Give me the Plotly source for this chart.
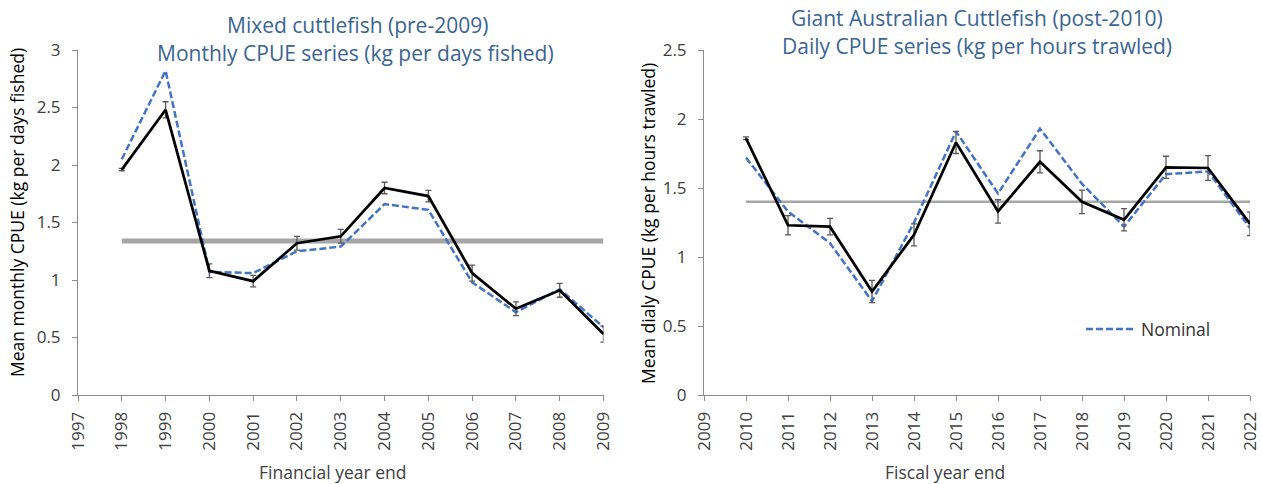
import plotly.graph_objects as go

# Mixed cuttlefish, monthly CPUE (kg per days fished), financial year end
years_a = [1998, 1999, 2000, 2001, 2002, 2003, 2004, 2005, 2006, 2007, 2008, 2009]
std_a = [1.96, 2.48, 1.08, 0.99, 1.32, 1.38, 1.80, 1.73, 1.06, 0.75, 0.91, 0.53]
err_a = [0.01, 0.07, 0.06, 0.05, 0.06, 0.06, 0.05, 0.05, 0.07, 0.06, 0.06, 0.07]
nom_a = [2.05, 2.82, 1.07, 1.06, 1.25, 1.29, 1.66, 1.61, 0.98, 0.72, 0.92, 0.59]
mean_a = 1.34

# Giant Australian Cuttlefish, daily CPUE (kg per hours trawled), fiscal year end
years_b = [2010, 2011, 2012, 2013, 2014, 2015, 2016, 2017, 2018, 2019, 2020, 2021, 2022]
std_b = [1.86, 1.23, 1.22, 0.75, 1.16, 1.83, 1.33, 1.69, 1.40, 1.27, 1.65, 1.645, 1.24]
err_b = [0.01, 0.07, 0.06, 0.08, 0.08, 0.08, 0.085, 0.08, 0.085, 0.08, 0.08, 0.09, 0.085]
nom_b = [1.72, 1.33, 1.10, 0.68, 1.25, 1.91, 1.46, 1.93, 1.53, 1.22, 1.60, 1.62, 1.21]
mean_b = 1.40

xticks_a = list(range(1997, 2010))
xticks_b = list(range(2009, 2023))
yticks_a = [0, 0.5, 1, 1.5, 2, 2.5, 3]
yticks_b = [0, 0.5, 1, 1.5, 2, 2.5]

W, H = 1262, 484
FONT = "Open Sans"
TITLE_COL = "#3a6592"
TEXT_COL = "#404040"
AXIS_COL = "#8c8c8c"


def px(x):
    return x / W


def py(y):
    return 1 - y / H


fig = go.Figure()

# Left panel
fig.add_trace(go.Scatter(x=[years_a[0], years_a[-1]], y=[mean_a, mean_a], mode="lines",
                         line=dict(color="#a6a6a6", width=5), showlegend=False,
                         xaxis="x", yaxis="y"))
fig.add_trace(go.Scatter(x=years_a, y=nom_a, mode="lines",
                         line=dict(color="#4472c4", width=2.5, dash="7px,3px"),
                         showlegend=False, xaxis="x", yaxis="y"))
fig.add_trace(go.Scatter(x=years_a, y=std_a, mode="lines",
                         line=dict(color="black", width=2.75),
                         error_y=dict(type="data", array=err_a, color="#595959",
                                      thickness=1.3, width=3),
                         showlegend=False, xaxis="x", yaxis="y"))

# Right panel
fig.add_trace(go.Scatter(x=[years_b[0], years_b[-1]], y=[mean_b, mean_b], mode="lines",
                         line=dict(color="#a6a6a6", width=2.5), showlegend=False,
                         xaxis="x2", yaxis="y2"))
fig.add_trace(go.Scatter(x=years_b, y=nom_b, mode="lines", name="Nominal",
                         line=dict(color="#4472c4", width=2.5, dash="7px,3px"),
                         showlegend=True, xaxis="x2", yaxis="y2"))
fig.add_trace(go.Scatter(x=years_b, y=std_b, mode="lines",
                         line=dict(color="black", width=2.75),
                         error_y=dict(type="data", array=err_b, color="#595959",
                                      thickness=1.3, width=3),
                         showlegend=False, xaxis="x2", yaxis="y2"))

ydom = [py(395), py(50)]
common_x = dict(showline=True, linecolor=AXIS_COL, linewidth=1, showgrid=False,
                zeroline=False, ticks="outside", ticklen=5, tickcolor=AXIS_COL,
                tickangle=-90, tickfont=dict(family=FONT, size=17, color=TEXT_COL),
                ticklabelstandoff=4, automargin=False)
common_y = dict(showline=True, linecolor=AXIS_COL, linewidth=1, showgrid=False,
                zeroline=False, ticks="outside", ticklen=5, tickcolor=AXIS_COL,
                tickfont=dict(family=FONT, size=17, color=TEXT_COL),
                ticklabelstandoff=8, automargin=False)

fig.update_layout(
    width=W, height=H,
    margin=dict(l=0, r=0, t=0, b=0, autoexpand=False),
    paper_bgcolor="white", plot_bgcolor="white",
    xaxis=dict(domain=[px(78), px(603.5)], range=[1997, 2009], anchor="y",
               tickvals=xticks_a, ticktext=[str(v) for v in xticks_a], **common_x),
    yaxis=dict(domain=ydom, range=[0, 3], anchor="x",
               tickvals=yticks_a, ticktext=[f"{v:g}" for v in yticks_a], **common_y),
    xaxis2=dict(domain=[px(704), px(1250)], range=[2009, 2022], anchor="y2",
                tickvals=xticks_b, ticktext=[str(v) for v in xticks_b], **common_x),
    yaxis2=dict(domain=ydom, range=[0, 2.5], anchor="x2",
                tickvals=yticks_b, ticktext=[f"{v:g}" for v in yticks_b], **common_y),
    legend=dict(x=px(1081), y=py(329), xanchor="left", yanchor="middle",
                itemwidth=50, bgcolor="rgba(0,0,0,0)",
                font=dict(family=FONT, size=17.5, color="#333333")),
    font=dict(family=FONT),
)

annots = [
    ("Mixed cuttlefish (pre-2009)", 357, 25, 21, TITLE_COL, 0),
    ("Monthly CPUE series (kg per days fished)", 356, 53, 21, TITLE_COL, 0),
    ("Giant Australian Cuttlefish (post-2010)", 977, 18, 21, TITLE_COL, 0),
    ("Daily CPUE series (kg per hours trawled)", 977, 46, 21, TITLE_COL, 0),
    ("Mean monthly CPUE (kg per days fished)", 17, 213, 17.5, "black", -90),
    ("Mean dialy CPUE (kg per hours trawled)", 648, 223, 17.5, "black", -90),
    ("Financial year end", 332, 472, 17.5, TEXT_COL, 0),
    ("Fiscal year end", 945, 472, 17.5, TEXT_COL, 0),
]
for text, x, y, size, col, ang in annots:
    fig.add_annotation(text=text, x=px(x), y=py(y), xref="paper", yref="paper",
                       showarrow=False, xanchor="center", yanchor="middle",
                       textangle=ang, font=dict(family=FONT, size=size, color=col))

fig.write_html("out.html")
